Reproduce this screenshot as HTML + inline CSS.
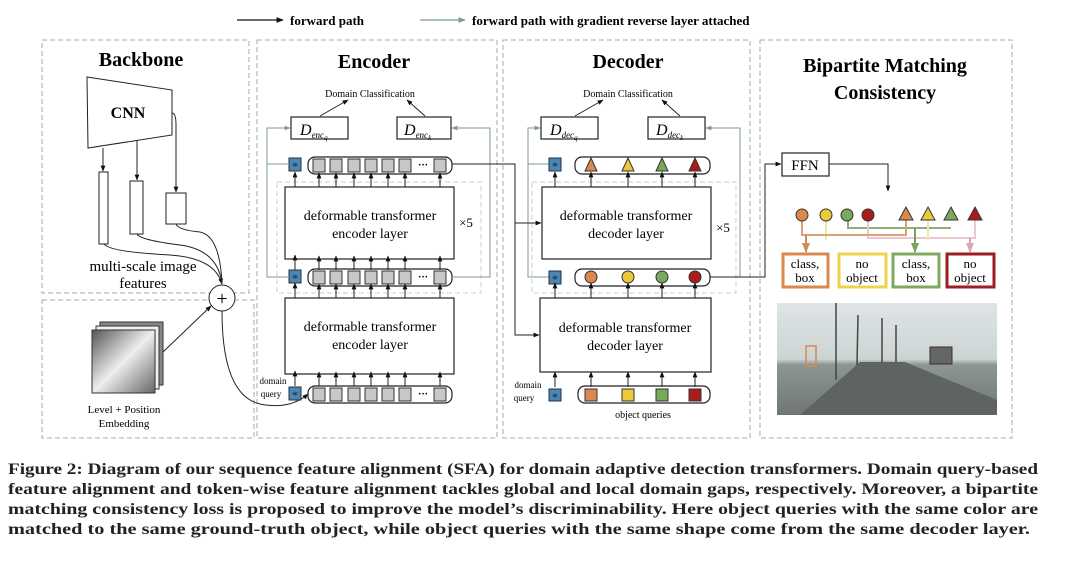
<!DOCTYPE html>
<html><head><meta charset="utf-8"><style>
html,body{margin:0;padding:0;background:#fff;}
svg{display:block;font-family:"Liberation Serif",serif;}
</style></head><body>
<svg width="1065" height="562" viewBox="0 0 1065 562" xmlns="http://www.w3.org/2000/svg">
<defs>
<marker id="a" viewBox="0 0 10 10" refX="9" refY="5" markerWidth="6" markerHeight="6" orient="auto"><path d="M0,1 L10,5 L0,9 z" fill="#111"/></marker>
<marker id="g" viewBox="0 0 10 10" refX="9" refY="5" markerWidth="6" markerHeight="6" orient="auto"><path d="M0,1 L10,5 L0,9 z" fill="#7a9a9c"/></marker>
<marker id="o" viewBox="0 0 10 10" refX="9" refY="5" markerWidth="5" markerHeight="5" orient="auto"><path d="M0,1 L10,5 L0,9 z" fill="#d08a55"/></marker>
<marker id="gr" viewBox="0 0 10 10" refX="9" refY="5" markerWidth="5" markerHeight="5" orient="auto"><path d="M0,1 L10,5 L0,9 z" fill="#78a060"/></marker>
<marker id="pk" viewBox="0 0 10 10" refX="9" refY="5" markerWidth="5" markerHeight="5" orient="auto"><path d="M0,1 L10,5 L0,9 z" fill="#d9a8b0"/></marker>
<linearGradient id="emb" x1="0" y1="0" x2="1" y2="1"><stop offset="0" stop-color="#555"/><stop offset="0.5" stop-color="#eee"/><stop offset="1" stop-color="#666"/></linearGradient>
<linearGradient id="sky" x1="0" y1="0" x2="0" y2="1"><stop offset="0" stop-color="#dfe5e6"/><stop offset="0.5" stop-color="#cdd4d4"/><stop offset="0.55" stop-color="#8e9694"/><stop offset="1" stop-color="#6f7673"/></linearGradient>
</defs>

<!-- legend -->
<line x1="237" y1="20" x2="283" y2="20" stroke="#111" stroke-width="1.2" marker-end="url(#a)"/>
<text x="290" y="25" font-size="13" font-weight="bold">forward path</text>
<line x1="420" y1="20" x2="465" y2="20" stroke="#7a9a9c" stroke-width="1.2" marker-end="url(#g)"/>
<text x="472" y="25" font-size="13" font-weight="bold">forward path with gradient reverse layer attached</text>

<!-- panels -->
<g fill="none" stroke="#aaa" stroke-dasharray="5,3" stroke-width="1">
<rect x="42" y="40" width="207" height="253"/>
<rect x="42" y="300" width="212" height="138"/>
<rect x="257" y="40" width="240" height="398"/>
<rect x="503" y="40" width="247" height="398"/>
<rect x="760" y="40" width="252" height="398"/>
<rect x="277" y="182" width="204" height="111" stroke="#ccc"/>
<rect x="532" y="182" width="204" height="111" stroke="#ccc"/>
</g>

<g font-weight="bold" text-anchor="middle">
<text x="141" y="66" font-size="20">Backbone</text>
<text x="374" y="68" font-size="20">Encoder</text>
<text x="628" y="68" font-size="20">Decoder</text>
<text x="885" y="72" font-size="20">Bipartite Matching</text>
<text x="885" y="99" font-size="20">Consistency</text>
</g>

<!-- backbone -->
<polygon points="87,77 172,90 172,135 88,148" fill="#fff" stroke="#222"/>
<text x="128" y="118" font-size="16" font-weight="bold" text-anchor="middle">CNN</text>
<g fill="#fff" stroke="#222">
<rect x="99" y="172" width="9" height="72"/>
<rect x="130" y="181" width="13" height="53"/>
<rect x="166" y="193" width="20" height="31"/>
</g>
<g fill="none" stroke="#222" stroke-width="1">
<line x1="103" y1="148" x2="103" y2="171" marker-end="url(#a)"/>
<line x1="137" y1="141" x2="137" y2="180" marker-end="url(#a)"/>
<path d="M172,113 Q176,113 176,125 L176,192" marker-end="url(#a)"/>
<path d="M104,244 Q110,252 170,255 Q215,258 222,284" marker-end="url(#a)"/>
<path d="M137,234 Q140,240 180,245 Q218,250 222,284"/>
<path d="M176,224 Q178,230 200,232 Q220,236 222,284"/>
<line x1="163" y1="352" x2="211" y2="306" marker-end="url(#a)"/>
<path d="M222,311 Q222,395 260,404 Q290,410 308,394" marker-end="url(#a)"/>
</g>
<circle cx="222" cy="298" r="13" fill="#fff" stroke="#222"/>
<text x="222" y="305" font-size="20" text-anchor="middle">+</text>
<text x="143" y="271" font-size="15" text-anchor="middle">multi-scale image</text>
<text x="143" y="288" font-size="15" text-anchor="middle">features</text>
<rect x="100" y="322" width="63" height="63" fill="#888" stroke="#333"/>
<rect x="96" y="326" width="63" height="63" fill="#eee" stroke="#333"/>
<rect x="92" y="330" width="63" height="63" fill="url(#emb)" stroke="#333"/>
<text x="124" y="413" font-size="11" text-anchor="middle">Level + Position</text>
<text x="124" y="427" font-size="11" text-anchor="middle">Embedding</text>

<!-- encoder -->
<g fill="#fff" stroke="#222" stroke-width="1.2">
<rect x="285" y="187" width="169" height="72"/>
<rect x="285" y="298" width="169" height="76"/>
<rect x="291" y="117" width="57" height="22"/>
<rect x="397" y="117" width="54" height="22"/>
<rect x="308" y="157" width="144" height="17" rx="7"/>
<rect x="308" y="269" width="144" height="17" rx="7"/>
<rect x="308" y="386" width="144" height="17" rx="7"/>
</g>
<g font-size="14" text-anchor="middle">
<text x="370" y="220">deformable transformer</text>
<text x="370" y="238">encoder layer</text>
<text x="370" y="331">deformable transformer</text>
<text x="370" y="349">encoder layer</text>
<text x="466" y="227" font-size="13">×5</text>
</g>
<text x="370" y="97" font-size="10" text-anchor="middle">Domain Classification</text>
<text x="628" y="97" font-size="10" text-anchor="middle">Domain Classification</text>
<g stroke="#222" fill="none">
<line x1="320" y1="116" x2="348" y2="100" marker-end="url(#a)"/>
<line x1="425" y1="116" x2="407" y2="100" marker-end="url(#a)"/>
<line x1="575" y1="116" x2="603" y2="100" marker-end="url(#a)"/>
<line x1="680" y1="116" x2="662" y2="100" marker-end="url(#a)"/>
</g>
<!-- encoder rows -->
<g id="encrow">
<g fill="#c8c8c8" stroke="#333">
<rect x="313" y="159" width="12" height="13"/><rect x="330" y="159" width="12" height="13"/><rect x="348" y="159" width="12" height="13"/><rect x="365" y="159" width="12" height="13"/><rect x="382" y="159" width="12" height="13"/><rect x="399" y="159" width="12" height="13"/><rect x="434" y="159" width="12" height="13"/>
</g>
<text x="423" y="168" font-size="10" font-weight="bold" text-anchor="middle">···</text>
<rect x="289" y="158" width="12" height="13" fill="#4d86b3" stroke="#234"/>
<text x="295" y="170" font-size="12" fill="#123" text-anchor="middle">*</text>
</g>
<use href="#encrow" transform="translate(0,112)"/>
<use href="#encrow" transform="translate(0,229)"/>
<g stroke="#222" fill="none">
<g id="encarr">
<line x1="295" y1="187" x2="295" y2="172" marker-end="url(#a)"/><line x1="319" y1="187" x2="319" y2="173" marker-end="url(#a)"/><line x1="336" y1="187" x2="336" y2="173" marker-end="url(#a)"/><line x1="354" y1="187" x2="354" y2="173" marker-end="url(#a)"/><line x1="371" y1="187" x2="371" y2="173" marker-end="url(#a)"/><line x1="388" y1="187" x2="388" y2="173" marker-end="url(#a)"/><line x1="405" y1="187" x2="405" y2="173" marker-end="url(#a)"/><line x1="440" y1="187" x2="440" y2="173" marker-end="url(#a)"/>
</g>
<use href="#encarr" transform="translate(0,83)"/>
<use href="#encarr" transform="translate(0,111)"/>
<use href="#encarr" transform="translate(0,199)"/>
</g>
<text x="273" y="384" font-size="9" text-anchor="middle">domain</text>
<text x="271" y="397" font-size="9" text-anchor="middle">query</text>
<!-- teal -->
<g stroke="#7a9a9c" fill="none">
<path d="M289,164 H267 V128 H290" marker-end="url(#g)"/>
<path d="M289,277 H267 V164"/>
<path d="M452,277 H490 V128 H452" marker-end="url(#g)"/>
<path d="M735,277 H740 V128 H706" marker-end="url(#g)"/>
<path d="M549,164 H528 V128 H540" marker-end="url(#g)"/>
<path d="M549,277 H528 V164"/>
</g>
<g stroke="#222" fill="none">
<path d="M452,164 H515 V223 H541" marker-end="url(#a)"/>
<path d="M515,223 V335 H539" marker-end="url(#a)"/>
</g>

<!-- decoder -->
<g fill="#fff" stroke="#222" stroke-width="1.2">
<rect x="542" y="187" width="169" height="72"/>
<rect x="540" y="298" width="171" height="74"/>
<rect x="541" y="117" width="57" height="22"/>
<rect x="648" y="117" width="57" height="22"/>
<rect x="575" y="157" width="135" height="17" rx="7"/>
<rect x="575" y="269" width="135" height="17" rx="7"/>
<rect x="578" y="386" width="132" height="17" rx="7"/>
</g>
<g font-style="italic" font-size="16">
<text x="300" y="135">D<tspan font-size="9" dy="3">enc</tspan><tspan font-size="7" dy="2">q</tspan></text>
<text x="404" y="135">D<tspan font-size="9" dy="3">enc</tspan><tspan font-size="7" dy="2">k</tspan></text>
<text x="550" y="135">D<tspan font-size="9" dy="3">dec</tspan><tspan font-size="7" dy="2">q</tspan></text>
<text x="656" y="135">D<tspan font-size="9" dy="3">dec</tspan><tspan font-size="7" dy="2">k</tspan></text>
</g>
<g font-size="14" text-anchor="middle">
<text x="626" y="220">deformable transformer</text>
<text x="626" y="238">decoder layer</text>
<text x="625" y="332">deformable transformer</text>
<text x="625" y="350">decoder layer</text>
<text x="723" y="232" font-size="13">×5</text>
<text x="643" y="418" font-size="10">object queries</text>
</g>
<text x="528" y="388" font-size="9" text-anchor="middle">domain</text>
<text x="524" y="401" font-size="9" text-anchor="middle">query</text>
<g fill="#4d86b3" stroke="#234">
<rect x="549" y="158" width="12" height="13"/><rect x="549" y="271" width="12" height="13"/><rect x="549" y="389" width="12" height="12"/>
</g>
<g font-size="12" fill="#123" text-anchor="middle">
<text x="555" y="170">*</text><text x="555" y="283">*</text><text x="555" y="401">*</text>
</g>
<g stroke="#333">
<polygon points="591,158 597,171 585,171" fill="#d9884f"/>
<polygon points="628,158 634,171 622,171" fill="#ecc93a"/>
<polygon points="662,158 668,171 656,171" fill="#78a85a"/>
<polygon points="695,158 701,171 689,171" fill="#a81c1c"/>
<circle cx="591" cy="277" r="6" fill="#d9884f"/>
<circle cx="628" cy="277" r="6" fill="#ecc93a"/>
<circle cx="662" cy="277" r="6" fill="#78a85a"/>
<circle cx="695" cy="277" r="6" fill="#a81c1c"/>
<rect x="585" y="389" width="12" height="12" fill="#d9884f"/>
<rect x="622" y="389" width="12" height="12" fill="#ecc93a"/>
<rect x="656" y="389" width="12" height="12" fill="#78a85a"/>
<rect x="689" y="389" width="12" height="12" fill="#a81c1c"/>
</g>
<g stroke="#222" fill="none">
<g id="decarr">
<line x1="555" y1="187" x2="555" y2="172" marker-end="url(#a)"/><line x1="591" y1="187" x2="591" y2="172" marker-end="url(#a)"/><line x1="628" y1="187" x2="628" y2="172" marker-end="url(#a)"/><line x1="662" y1="187" x2="662" y2="172" marker-end="url(#a)"/><line x1="695" y1="187" x2="695" y2="172" marker-end="url(#a)"/>
</g>
<use href="#decarr" transform="translate(0,111)"/>
<use href="#decarr" transform="translate(0,200)"/>
<path d="M710,277 H765 V164 H781" marker-end="url(#a)"/>
<path d="M829,164 H888 V191" marker-end="url(#a)"/>
</g>

<!-- bipartite -->
<rect x="782" y="153" width="47" height="23" fill="#fff" stroke="#222" stroke-width="1.2"/>
<text x="805" y="170" font-size="15" text-anchor="middle">FFN</text>
<g fill="none" stroke-width="2">
<path d="M848,215 V228 H951" stroke="#8db07a"/>
<path d="M868,215 V238 H975 V220" stroke="#e8c8cc"/>
<path d="M826,215 V240" stroke="#f3e4a0"/>
<path d="M928,220 V240" stroke="#f3e4a0"/>
<path d="M802,215 V235 H906 V220" stroke="#d9a278"/>
<path d="M806,235 V252" stroke="#d08a55" marker-end="url(#o)"/>
<path d="M915,228 V252" stroke="#78a060" marker-end="url(#gr)"/>
<path d="M970,238 V252" stroke="#d9a8b0" marker-end="url(#pk)"/>
</g>
<g stroke="#333">
<circle cx="802" cy="215" r="6" fill="#d9884f"/>
<circle cx="826" cy="215" r="6" fill="#ecc93a"/>
<circle cx="847" cy="215" r="6" fill="#78a85a"/>
<circle cx="868" cy="215" r="6" fill="#a81c1c"/>
<polygon points="906,207 913,220 899,220" fill="#d9884f"/>
<polygon points="928,207 935,220 921,220" fill="#ecc93a"/>
<polygon points="951,207 958,220 944,220" fill="#78a85a"/>
<polygon points="975,207 982,220 968,220" fill="#a81c1c"/>
</g>
<g fill="#fff" stroke-width="3">
<rect x="783" y="254" width="45" height="33" stroke="#d9884f"/>
<rect x="839" y="254" width="47" height="33" stroke="#ecd34a"/>
<rect x="893" y="254" width="46" height="33" stroke="#7fa860"/>
<rect x="947" y="254" width="47" height="33" stroke="#9a1e22"/>
</g>
<g font-size="13" text-anchor="middle">
<text x="805" y="268">class,</text><text x="805" y="282">box</text>
<text x="862" y="268">no</text><text x="862" y="282">object</text>
<text x="916" y="268">class,</text><text x="916" y="282">box</text>
<text x="970" y="268">no</text><text x="970" y="282">object</text>
</g>
<!-- road image -->
<rect x="777" y="303" width="220" height="112" fill="url(#sky)"/>
<polygon points="860,362 905,362 997,400 997,415 800,415" fill="#5e6462"/>
<g stroke="#444" stroke-width="1.5">
<line x1="836" y1="303" x2="836" y2="380"/><line x1="858" y1="315" x2="857" y2="365"/><line x1="882" y1="318" x2="882" y2="362"/><line x1="896" y1="325" x2="896" y2="362"/>
</g>
<rect x="930" y="347" width="22" height="17" fill="#666" stroke="#333"/>
<rect x="806" y="346" width="10" height="20" fill="none" stroke="#d9884f" stroke-width="1.5"/>

<!-- caption -->
<g font-size="15.5" fill="#222" font-weight="bold">
<text x="8" y="474" textLength="1030" lengthAdjust="spacingAndGlyphs">Figure 2: Diagram of our sequence feature alignment (SFA) for domain adaptive detection transformers. Domain query-based</text>
<text x="8" y="494" textLength="1030" lengthAdjust="spacingAndGlyphs">feature alignment and token-wise feature alignment tackles global and local domain gaps, respectively. Moreover, a bipartite</text>
<text x="8" y="514" textLength="1030" lengthAdjust="spacingAndGlyphs">matching consistency loss is proposed to improve the model’s discriminability. Here object queries with the same color are</text>
<text x="8" y="534" textLength="1022" lengthAdjust="spacingAndGlyphs">matched to the same ground-truth object, while object queries with the same shape come from the same decoder layer.</text>
</g>
</svg>
</body></html>
